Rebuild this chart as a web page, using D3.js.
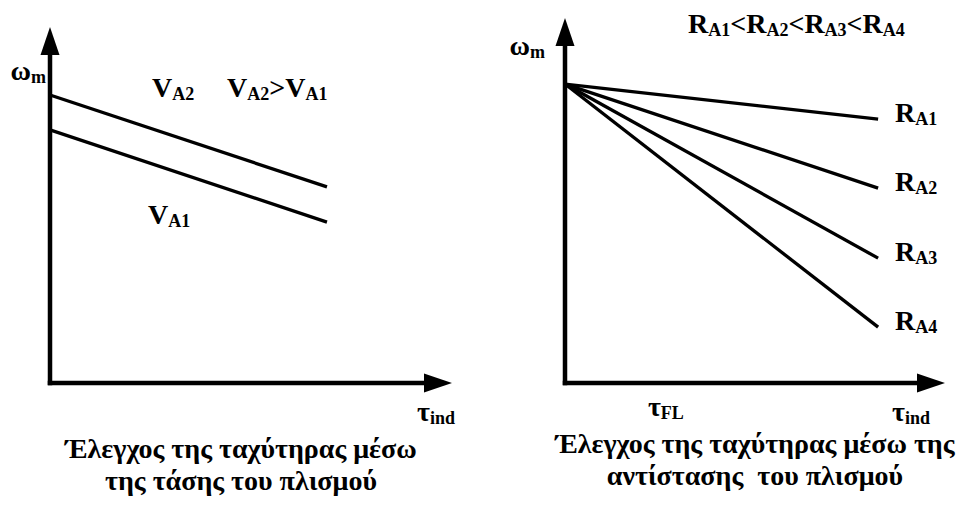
<!DOCTYPE html>
<html>
<head>
<meta charset="utf-8">
<script src="https://cdn.jsdelivr.net/npm/d3@7/dist/d3.min.js"></script>
<style>
  html, body { margin: 0; padding: 0; background: #fff; }
  svg { display: block; }
</style>
</head>
<body>
<svg id="chart" width="956" height="505"></svg>
<script>
// Speed–torque characteristics of a DC motor (relative units, 0–100 on each axis)

// Left panel: armature voltage control
const voltageSeries = ["A2", "A1"];
const voltageNoLoad = [80.9, 71.1];      // ω at τ = 0
const voltageLoaded = [55.1, 45.2];      // ω at τ = voltageTorqueEnd
const voltageTorqueEnd = 68.9;

// Right panel: armature resistance control
const resistanceSeries = ["A1", "A2", "A3", "A4"];
const resistanceNoLoad = 81.9;           // common ω at τ = 0
const resistanceLoaded = [72.3, 53.4, 34.2, 15.3];
const resistanceTorqueEnd = 82.4;
const fullLoadTorque = 27.6;             // position of τ_FL on the torque axis

const titleLeft = ["Έλεγχος της ταχύτηρας μέσω", "της τάσης του πλισμού"];
const titleRight = ["Έλεγχος της ταχύτηρας μέσω της", "αντίστασης\u00a0 του πλισμού"];

const FONT = "Liberation Serif";
const svg = d3.select("#chart");
const FS = 28, SUB = 18;

// Write a label made of normal and subscript pieces
function label(g, x, y, parts, anchor) {
  const t = g.append("text").attr("x", x).attr("y", y)
    .attr("font-family", FONT).attr("font-weight", "bold")
    .attr("font-size", FS).attr("text-anchor", anchor || "start");
  let shifted = false;
  parts.forEach(p => {
    const sub = typeof p !== "string";
    const s = t.append("tspan").text(sub ? p.sub : p)
      .attr("font-size", sub ? SUB : FS);
    if (sub && !shifted) { s.attr("dy", 3); shifted = true; }
    else if (!sub && shifted) { s.attr("dy", -3); shifted = false; }
  });
  return t;
}

// Thick axes with solid arrowheads, built from the panel scales
function drawAxes(g, x, y) {
  const W = 4.5, L = 28, H = 9.5;
  const x0 = x(0), y0 = y(0), xt = x(100), yt = y(100);
  g.append("line").attr("x1", x0).attr("x2", x0)
    .attr("y1", y0 + W / 2).attr("y2", yt + L - 1)
    .attr("stroke", "#000").attr("stroke-width", W);
  g.append("line").attr("y1", y0).attr("y2", y0)
    .attr("x1", x0 - W / 2).attr("x2", xt - L + 1)
    .attr("stroke", "#000").attr("stroke-width", W);
  g.append("path").attr("d", `M${x0},${yt}L${x0 + H},${yt + L}L${x0 - H},${yt + L}Z`).attr("fill", "#000");
  g.append("path").attr("d", `M${xt},${y0}L${xt - L},${y0 - H}L${xt - L},${y0 + H}Z`).attr("fill", "#000");
}

function drawTitle(g, cx, y, lines) {
  lines.forEach((s, i) => {
    g.append("text").attr("x", cx).attr("y", y + i * 32)
      .attr("font-family", FONT).attr("font-weight", "bold")
      .attr("text-anchor", "middle").attr("font-size", FS).text(s);
  });
}

// ---- Left panel ----
{
  const g = svg.append("g");
  const x = d3.scaleLinear([0, 100], [50, 452]);
  const y = d3.scaleLinear([0, 100], [383, 27]);
  const line = d3.line().x(d => x(d[0])).y(d => y(d[1]));

  g.selectAll("path.curve")
    .data(voltageSeries.map((s, i) => [[0, voltageNoLoad[i]], [voltageTorqueEnd, voltageLoaded[i]]]))
    .join("path").attr("class", "curve")
    .attr("d", line).attr("fill", "none").attr("stroke", "#000").attr("stroke-width", 3.3);

  drawAxes(g, x, y);

  label(g, x(0) - 4, 80, ["ω", { sub: "m" }], "end");
  label(g, 152, 97, ["V", { sub: "A2" }]);
  label(g, 227, 97, ["V", { sub: "A2" }, ">V", { sub: "A1" }]);
  label(g, 148, 224, ["V", { sub: "A1" }]);
  label(g, 417, 421, ["τ", { sub: "ind" }]);
  drawTitle(g, 241, 458, titleLeft);
}

// ---- Right panel ----
{
  const g = svg.append("g");
  const x = d3.scaleLinear([0, 100], [565, 945]);
  const y = d3.scaleLinear([0, 100], [383, 18]);
  const line = d3.line().x(d => x(d[0])).y(d => y(d[1]));

  g.selectAll("path.curve")
    .data(resistanceLoaded.map(v => [[0, resistanceNoLoad], [resistanceTorqueEnd, v]]))
    .join("path").attr("class", "curve")
    .attr("d", line).attr("fill", "none").attr("stroke", "#000").attr("stroke-width", 3.3);

  drawAxes(g, x, y);

  label(g, x(0) - 20, 55, ["ω", { sub: "m" }], "end");
  label(g, 688, 33, ["R", { sub: "A1" }, "<R", { sub: "A2" }, "<R", { sub: "A3" }, "<R", { sub: "A4" }]);
  resistanceSeries.forEach((s, i) => {
    label(g, x(resistanceTorqueEnd) + 17, y(resistanceLoaded[i]) + 3, ["R", { sub: s }]);
  });
  label(g, x(fullLoadTorque) - 22, 416, ["τ", { sub: "FL" }]);
  label(g, 892, 421, ["τ", { sub: "ind" }]);
  drawTitle(g, 755, 453, titleRight);
}
</script>
</body>
</html>
